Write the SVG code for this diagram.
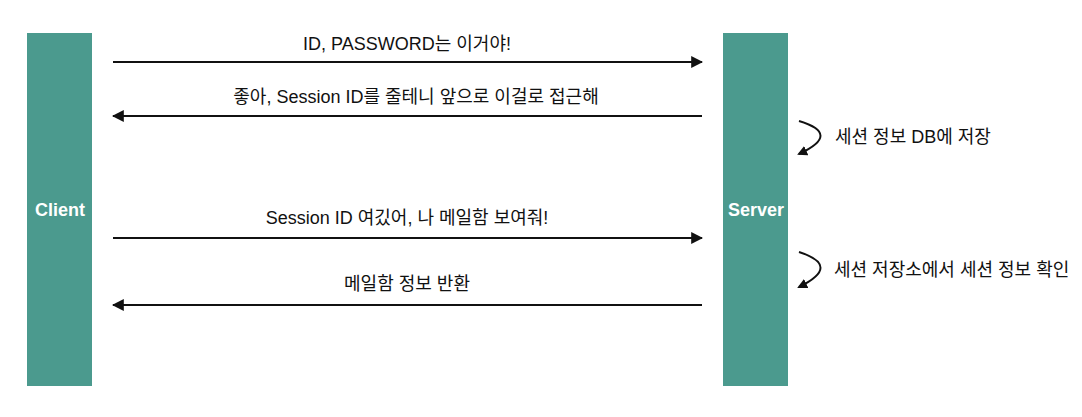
<svg xmlns="http://www.w3.org/2000/svg" width="1082" height="417" viewBox="0 0 1082 417">
<style>
.bar{fill:#4b9a8e;}
.nlabel{font-family:"Liberation Sans","Noto Sans CJK KR",sans-serif;font-size:18px;font-weight:bold;fill:#ffffff;text-anchor:middle;}
.msg{font-family:"Liberation Sans","Noto Sans CJK KR",sans-serif;font-size:18px;fill:#111111;text-anchor:middle;}
.note{font-family:"Liberation Sans","Noto Sans CJK KR",sans-serif;font-size:18px;fill:#111111;}
.line{stroke:#111111;stroke-width:2;fill:none;}
</style>
<defs>
<marker id="ah" viewBox="0 0 10 10" refX="9" refY="5" markerWidth="6" markerHeight="6" orient="auto-start-reverse" markerUnits="strokeWidth">
<path d="M0,0 L10,5 L0,10 Z" fill="#111111"/>
</marker>
<marker id="ah2" viewBox="0 0 10 10" refX="8" refY="5" markerWidth="5" markerHeight="5" orient="auto" markerUnits="strokeWidth">
<path d="M0,0 L10,5 L0,10 Z" fill="#111111"/>
</marker>
</defs>
<rect width="1082" height="417" fill="#ffffff"/>
<g id="client">
<rect class="bar" x="27" y="33" width="65" height="353"/>
<text class="nlabel" x="60" y="216">Client</text>
</g>
<g id="server">
<rect class="bar" x="723" y="33" width="65" height="353"/>
<text class="nlabel" x="756" y="216">Server</text>
</g>
<g id="connectors">
<line class="line" x1="113" y1="62" x2="702" y2="62" marker-end="url(#ah)"/>
<line class="line" x1="702" y1="116" x2="113" y2="116" marker-end="url(#ah)"/>
<line class="line" x1="113" y1="238" x2="702" y2="238" marker-end="url(#ah)"/>
<line class="line" x1="702" y1="305" x2="113" y2="305" marker-end="url(#ah)"/>
<path class="line" d="M799,121 Q842,134 799,154" marker-end="url(#ah2)"/>
<path class="line" d="M799,252 Q842,266 799,287" marker-end="url(#ah2)"/>
</g>
<g id="labels">
<text class="msg" x="407" y="50">ID, PASSWORD는 이거야!</text>
<text class="msg" x="416" y="103">좋아, Session ID를 줄테니 앞으로 이걸로 접근해</text>
<text class="msg" x="407" y="224">Session ID 여깄어, 나 메일함 보여줘!</text>
<text class="msg" x="407" y="290">메일함 정보 반환</text>
<text class="note" x="835" y="143">세션 정보 DB에 저장</text>
<text class="note" x="834" y="276">세션 저장소에서 세션 정보 확인</text>
</g>
</svg>
